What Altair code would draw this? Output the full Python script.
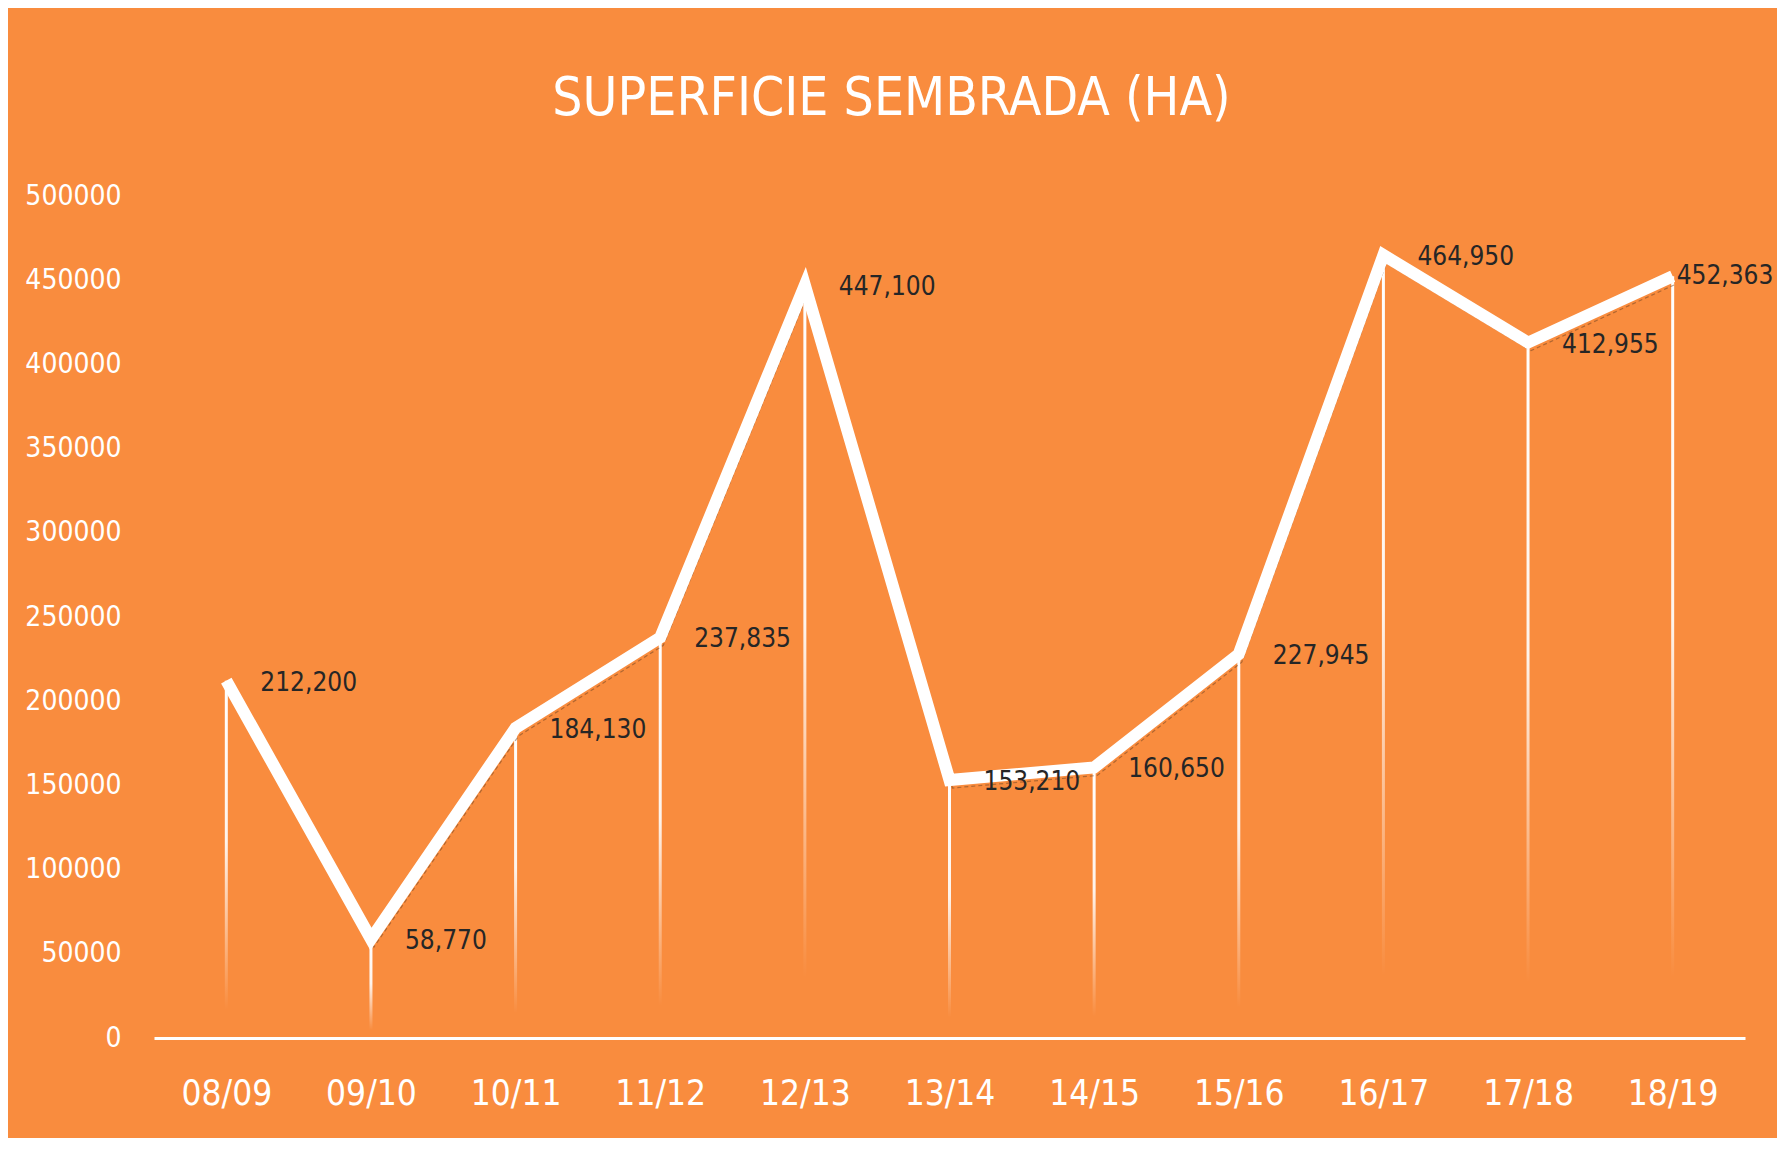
import altair as alt
import pandas as pd

seasons = ["08/09", "09/10", "10/11", "11/12", "12/13", "13/14",
           "14/15", "15/16", "16/17", "17/18", "18/19"]
area_ha = [212200, 58770, 184130, 237835, 447100, 153210,
           160650, 227945, 464950, 412955, 452363]
y_ticks = [0, 50000, 100000, 150000, 200000, 250000,
           300000, 350000, 400000, 450000, 500000]

df = pd.DataFrame({"season": seasons, "area": area_ha})
df["last"] = [s == seasons[-1] for s in seasons]

FONT = "DejaVu Sans Condensed, DejaVu Sans, sans-serif"
BG = "#F98C3E"

x_enc = alt.X("season:N", sort=seasons,
              scale=alt.Scale(type="point", padding=0.5),
              axis=alt.Axis(title=None, labelAngle=0, labelColor="white",
                            labelFont=FONT, labelFontSize=35, labelPadding=38,
                            domainColor="white", domainWidth=3, ticks=False,
                            grid=False))
y_enc = alt.Y("area:Q",
              scale=alt.Scale(domain=[0, 500000], nice=False, zero=True),
              axis=alt.Axis(title=None, values=y_ticks, format="d",
                            labelColor="white", labelFont=FONT,
                            labelFontSize=28, labelPadding=33, domain=False,
                            ticks=False, grid=False))

base = alt.Chart(df).encode(x=x_enc, y=y_enc)

grad = alt.Gradient(
    gradient="linear", x1=0, x2=0, y1=0, y2=1,
    stops=[alt.GradientStop(color="rgba(255,255,255,1)", offset=0),
           alt.GradientStop(color="rgba(255,255,255,0.9)", offset=0.45),
           alt.GradientStop(color="rgba(255,255,255,0)", offset=0.92)])

drops = base.mark_bar(size=3, fill=grad)
shadow = base.mark_line(color="#5a3a20", strokeWidth=1.2, strokeDash=[4, 3],
                        opacity=0.45, xOffset=3, yOffset=8)
line = base.mark_line(color="white", strokeWidth=12, strokeJoin="miter")
labels = base.mark_text(align="left", baseline="middle", dx=34, dy=2,
                        font=FONT, fontSize=26, color="#262626").encode(
    text=alt.Text("area:Q", format=",")
).transform_filter("!datum.last")
last_label = base.mark_text(align="left", baseline="middle", dx=4, dy=0,
                            font=FONT, fontSize=26, color="#262626").encode(
    text=alt.Text("area:Q", format=",")
).transform_filter("datum.last")

chart = alt.layer(drops, shadow, line, labels, last_label).properties(
    width=1591, height=842,
    background=BG,
    padding={"left": 146, "top": 188, "right": 32, "bottom": 100},
    autosize=alt.AutoSizeParams(type="none"),
    title=alt.TitleParams("SUPERFICIE SEMBRADA (HA)", color="white",
                          font=FONT, fontSize=53, fontWeight="normal",
                          anchor="middle", frame="group", offset=14,
                          baseline="alphabetic", dx=-58),
).configure_view(strokeWidth=0)

chart.save("out.html", embed_options={"renderer": "svg", "actions": False})
